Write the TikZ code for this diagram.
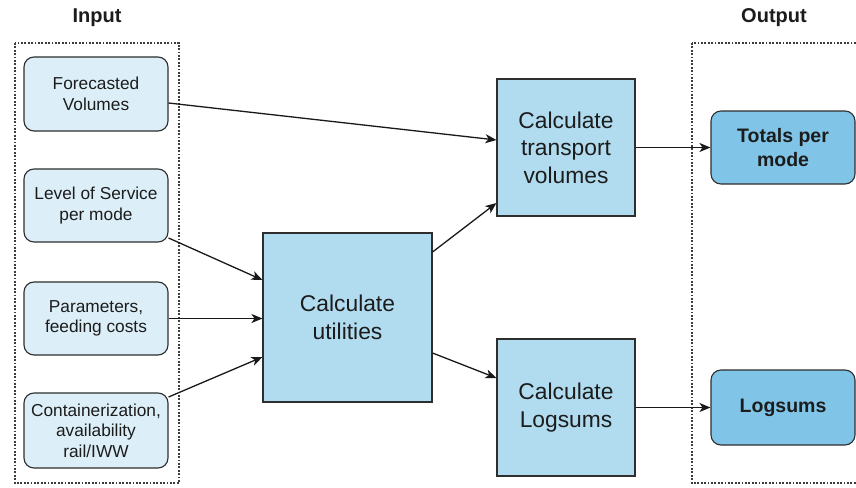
\documentclass[tikz,border=0pt]{standalone}
\usepackage{fontspec}
\setmainfont{Liberation Sans}
\usetikzlibrary{arrows.meta}
\definecolor{inbox}{HTML}{DCEFF8}
\definecolor{calcbox}{HTML}{B1DCEF}
\definecolor{outbox}{HTML}{80C5E7}
\definecolor{edge}{HTML}{2E2E2E}
\definecolor{frameline}{HTML}{3C3C3C}
\definecolor{ink}{HTML}{1C1C1C}
\tikzset{
  inputbox/.style={draw=edge, line width=1.1pt, fill=inbox, rounded corners=10pt,
    minimum width=144pt, align=center, text=ink, font=\fontsize{17.3}{20.4}\selectfont, inner sep=2pt},
  calcnode/.style={draw=edge, line width=1.1pt, fill=calcbox, align=center, text=ink,
    font=\fontsize{22.8}{27.5}\selectfont, inner sep=2pt},
  outnode/.style={draw=edge, line width=1.1pt, fill=outbox, rounded corners=10pt,
    minimum width=144pt, align=center, text=ink, font=\bfseries\fontsize{19.5}{24}\selectfont, inner sep=2pt},
  header/.style={font=\bfseries\fontsize{20}{24}\selectfont, text=ink},
  groupframe/.style={draw=frameline, line width=2.2pt, dash pattern=on 1.8pt off 1.6pt},
  flow/.style={draw=black!90, line width=1.3pt, -{Stealth[length=11pt,width=9pt,inset=3pt]}}
}
\begin{document}
\begin{tikzpicture}[x=1pt,y=-1pt]
\useasboundingbox[fill=white] (0,0) rectangle (856,487);
\clip (0,0) rectangle (856,487);

% group frames and headers
\draw[groupframe] (15,43) rectangle (179,483);
\draw[groupframe] (692,43) rectangle (866,483);
\node[header] (inlabel) at (97,18) {Input};
\node[header] (outlabel) at (774,18) {Output};

% inputs
\node[inputbox, minimum height=74pt] (fv) at (96,94) {Forecasted\\Volumes};
\node[inputbox, minimum height=73pt] (los) at (96,205.5) {Level of Service\\per mode};
\node[inputbox, minimum height=73pt] (par) at (96,318.5) {Parameters,\\feeding costs};
\node[inputbox, minimum height=75pt] (cont) at (96,430.5) {Containerization,\\availability\\rail/IWW};

% calculation steps
\node[calcnode, minimum width=169pt, minimum height=169pt] (util) at (347.5,317.5) {Calculate\\utilities};
\node[calcnode, minimum width=138pt, minimum height=137pt] (trans) at (566,147.5) {Calculate\\transport\\volumes};
\node[calcnode, minimum width=138pt, minimum height=137pt] (logc) at (566,407.5) {Calculate\\Logsums};

% outputs
\node[outnode, minimum height=73pt] (tot) at (783,147.5) {Totals per\\mode};
\node[outnode, minimum height=75pt] (logo) at (783,407.5) {Logsums};

% connectors
\draw[flow] ([yshift=-9pt]fv.east) -- ([yshift=7.5pt]trans.west);
\draw[flow] ([yshift=-32.5pt]los.east) -- ([yshift=37.5pt]util.west);
\draw[flow] (par.east) -- (par.east -| util.west);
\draw[flow] ([yshift=33.5pt]cont.east) -- ([yshift=-39.5pt]util.west);
\draw[flow] ([yshift=65.5pt]util.east) -- ([yshift=-55.5pt]trans.west);
\draw[flow] ([yshift=-35.5pt]util.east) -- ([yshift=29.5pt]logc.west);
\draw[flow] (trans.east) -- (tot.west);
\draw[flow] (logc.east) -- (logo.west);
\end{tikzpicture}
\end{document}
